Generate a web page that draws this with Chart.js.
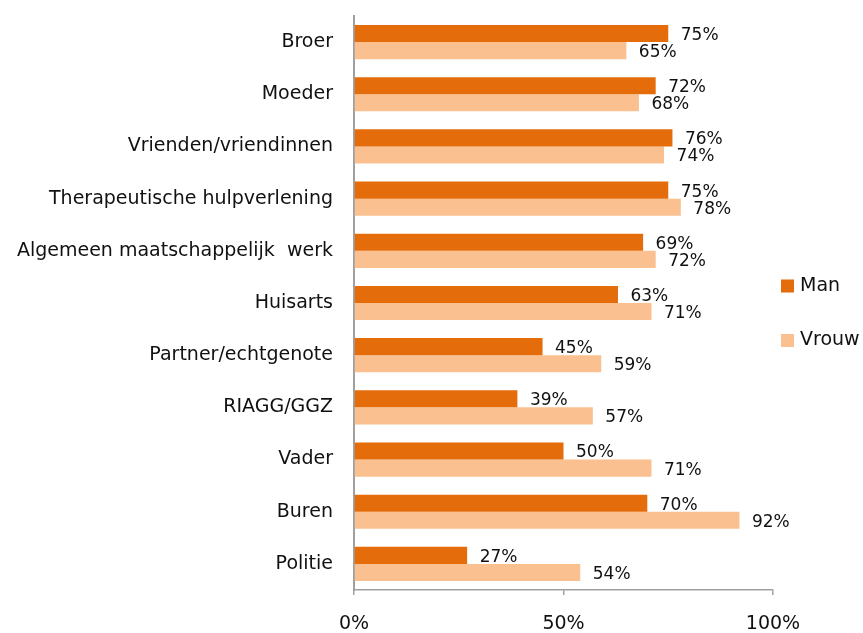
<!DOCTYPE html>
<html>
<head>
<meta charset="utf-8">
<script src="https://cdn.jsdelivr.net/npm/chart.js@4.4.1/dist/chart.umd.min.js"></script>
<style>
html,body{margin:0;padding:0;background:#fff;}
#wrap{width:863px;height:633px;}
</style>
</head>
<body>
<div id="wrap"><canvas id="c" width="863" height="633"></canvas></div>
<script>
const categories = ["Broer","Moeder","Vrienden/vriendinnen","Therapeutische hulpverlening","Algemeen maatschappelijk  werk","Huisarts","Partner/echtgenote","RIAGG/GGZ","Vader","Buren","Politie"];
const manValues = [75,72,76,75,69,63,45,39,50,70,27];
const vrouwValues = [65,68,74,78,72,71,59,57,71,92,54];
const seriesNames = ["Man","Vrouw"];
const xTicks = [0,50,100];

const FONT = "'DejaVu Sans', sans-serif";
const TEXT = '#111111';
const AXIS = '#a0a0a0';
const colors = ['#E46C0A','#FAC090'];

const valueLabels = {
  id:'valueLabels',
  afterDatasetsDraw(chart){
    const ctx = chart.ctx;
    ctx.save();
    ctx.font = '17px ' + FONT;
    ctx.fillStyle = TEXT;
    ctx.textAlign = 'left';
    ctx.textBaseline = 'middle';
    chart.data.datasets.forEach((ds,i)=>{
      chart.getDatasetMeta(i).data.forEach((bar,j)=>{
        ctx.fillText(ds.data[j] + '%', bar.x + 12.5, bar.y + 2);
      });
    });
    ctx.restore();
  }
};

const sideLegend = {
  id:'sideLegend',
  afterDraw(chart){
    const ctx = chart.ctx;
    const ys = [286, 340.5];
    ctx.save();
    ctx.font = '19px ' + FONT;
    ctx.textBaseline = 'middle';
    ctx.textAlign = 'left';
    chart.data.datasets.forEach((ds,i)=>{
      ctx.fillStyle = ds.backgroundColor;
      ctx.fillRect(781, ys[i]-6.5, 13, 13);
      ctx.fillStyle = TEXT;
      ctx.fillText(ds.label, 800, ys[i]);
    });
    ctx.restore();
  }
};

new Chart(document.getElementById('c'), {
  type:'bar',
  data:{
    labels: categories,
    datasets:[
      {label: seriesNames[0], data: manValues, backgroundColor: colors[0]},
      {label: seriesNames[1], data: vrouwValues, backgroundColor: colors[1]}
    ]
  },
  options:{
    indexAxis:'y',
    responsive:false,
    animation:false,
    layout:{padding:{top:16,right:90,left:0,bottom:0}},
    datasets:{bar:{categoryPercentage:0.655,barPercentage:1}},
    plugins:{legend:{display:false},tooltip:{enabled:false}},
    scales:{
      x:{
        min:0,max:100,
        afterBuildTicks(scale){ scale.ticks = xTicks.map(v=>({value:v})); },
        afterFit(scale){ scale.height = 43; scale.paddingLeft = 0; scale.paddingRight = 0; },
        ticks:{callback:v=>v+'%',color:TEXT,font:{family:FONT,size:19},padding:18,maxRotation:0},
        grid:{display:true,drawOnChartArea:false,drawTicks:true,tickLength:5,color:AXIS,lineWidth:1.5},
        border:{display:true,color:AXIS,width:1.5}
      },
      y:{
        afterFit(scale){ scale.width = 354; scale.paddingTop = 0; scale.paddingBottom = 0; },
        ticks:{color:TEXT,font:{family:FONT,size:19},padding:21},
        grid:{display:false,drawTicks:false},
        border:{display:true,color:AXIS,width:2}
      }
    }
  },
  plugins:[valueLabels, sideLegend]
});
</script>
</body>
</html>
